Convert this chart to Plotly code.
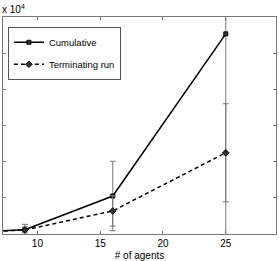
import plotly.graph_objects as go

agents = [4, 9, 16, 25]
cumulative = [190, 590, 5250, 27670]
cumulative_err = [150, 750, 4800, 30000]
terminating = [150, 560, 3190, 11230]
terminating_err = [120, 400, 2100, 6780]

fig = go.Figure()
fig.add_trace(go.Scatter(
    x=agents, y=cumulative, name="Cumulative", mode="lines+markers", legendgroup="a",
    line=dict(color="black", width=1.5),
    marker=dict(symbol="square", size=4, color="#333", line=dict(color="black", width=1)),
    error_y=dict(type="data", array=cumulative_err, color="#777", thickness=1, width=3),
))
fig.add_trace(go.Scatter(
    x=agents, y=terminating, name="Terminating run", mode="lines+markers", legendgroup="b",
    line=dict(color="black", width=1.5, dash="4px,3px"),
    marker=dict(symbol="diamond", size=5, color="#333", line=dict(color="black", width=1)),
    error_y=dict(type="data", array=terminating_err, color="#777", thickness=1, width=3),
))

axis_common = dict(showline=True, linecolor="#777", linewidth=1, mirror="ticks",
                   ticks="inside", ticklen=3, tickcolor="#777", showgrid=False, zeroline=False)
fig.update_xaxes(range=[7.26, 29.0], tickvals=[10, 15, 20, 25],
                 tickfont=dict(family="Liberation Sans, Arial", size=10, color="black"),
                 title=dict(text="# of agents", font=dict(family="Liberation Sans, Arial", size=10, color="black"), standoff=3),
                 **axis_common)
fig.update_yaxes(range=[0, 30000], dtick=5000, showticklabels=False, **axis_common)

fig.add_annotation(text="x 10<sup>4</sup>", xref="paper", yref="paper", x=-0.011, y=1.0,
                   xanchor="left", yanchor="bottom", showarrow=False, yshift=0,
                   font=dict(family="Liberation Sans, Arial", size=10, color="black"))

fig.update_layout(
    width=279, height=261,
    margin=dict(l=3, r=2, t=17, b=25),
    paper_bgcolor="white", plot_bgcolor="white",
    showlegend=True,
    legend=dict(x=0.018, y=0.955, xanchor="left", yanchor="top", itemwidth=30,
                tracegroupgap=3,
                bordercolor="#555", borderwidth=1, bgcolor="white",
                font=dict(family="Liberation Sans, Arial", size=9.5, color="black")),
)
fig.write_html("out.html", config={"displayModeBar": False},
               post_script="document.body.style.margin='0';document.body.style.overflow='hidden';")
